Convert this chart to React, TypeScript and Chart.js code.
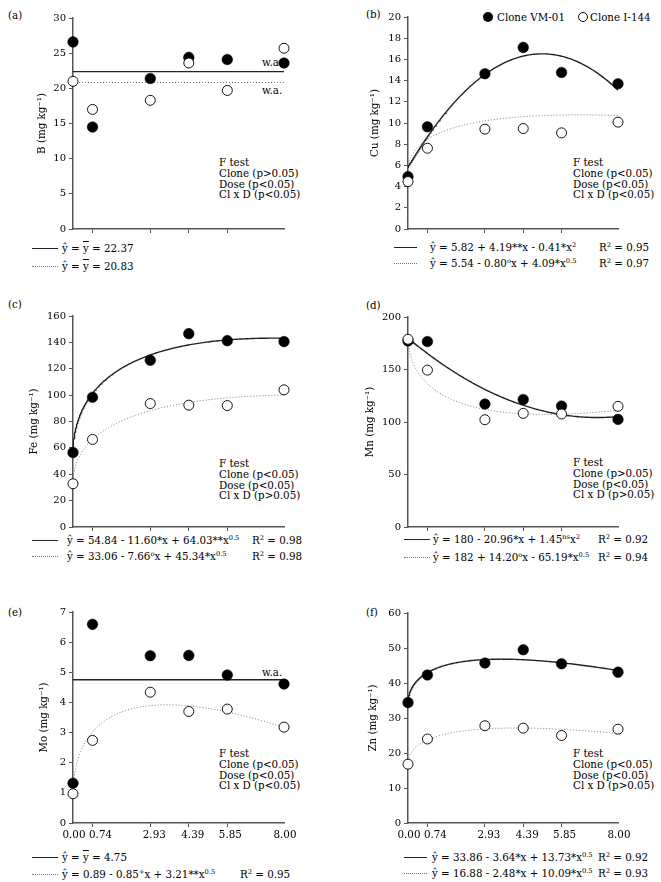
import React, { useEffect, useRef } from 'react';
import { Chart, registerables } from 'chart.js';
Chart.register(...registerables);

// ---------- data ----------
const doses = [0, 0.74, 2.93, 4.39, 5.85, 8];
const doseLabels = ['0.00', '0.74', '2.93', '4.39', '5.85', '8.00'];

const bVM01 = [26.6, 14.5, 21.4, 24.4, 24.1, 23.6];
const bI144 = [21.0, 17.0, 18.3, 23.6, 19.7, 25.7];
const bMeanVM01 = [22.37];
const bMeanI144 = [20.83];

const cuVM01 = [4.94, 9.64, 14.65, 17.13, 14.77, 13.7];
const cuI144 = [4.47, 7.62, 9.42, 9.48, 9.07, 10.08];
const cuFitVM01 = [5.82, 4.19, -0.41];
const cuFitI144 = [5.54, -0.8, 4.09];

const feVM01 = [56.5, 98.4, 126.4, 146.6, 141.3, 140.6];
const feI144 = [32.8, 66.4, 93.6, 92.4, 92.1, 104.0];
const feFitVM01 = [54.84, -11.6, 64.03];
const feFitI144 = [33.06, -7.66, 45.34];

const mnVM01 = [177.2, 176.6, 117.1, 121.5, 115.2, 102.5];
const mnI144 = [178.8, 149.4, 102.2, 108.2, 107.6, 114.9];
const mnFitVM01 = [180, -20.96, 1.45];
const mnFitI144 = [182, 14.2, -65.19];

const moVM01 = [1.32, 6.59, 5.55, 5.56, 4.91, 4.61];
const moI144 = [0.97, 2.74, 4.34, 3.7, 3.78, 3.18];
const moMeanVM01 = [4.75];
const moFitI144 = [0.89, -0.85, 3.21];

const znVM01 = [34.4, 42.3, 45.7, 49.5, 45.5, 43.1];
const znI144 = [16.8, 24.0, 27.8, 27.1, 25.0, 26.8];
const znFitVM01 = [33.86, -3.64, 13.73];
const znFitI144 = [16.88, -2.48, 10.09];

// ---------- helpers ----------
type Kind = 'mean' | 'quad' | 'sqrt';
type Fit = { kind: Kind; c: number[] };

const FONT = '"DejaVu Serif", serif';
const W = 661;
const H = 882;
const YW = 50;
const XH = 20;
const xLabelNudge = [1, 8, 4, 4, 3, 1];

function fitCurve(fit: Fit) {
  if (fit.kind === 'mean') {
    return [
      { x: 0, y: fit.c[0] },
      { x: 8, y: fit.c[0] },
    ];
  }
  const pts: { x: number; y: number }[] = [];
  const n = 200;
  for (let i = 0; i <= n; i++) {
    const x = 8 * Math.pow(i / n, 2);
    const c = fit.c;
    const y = fit.kind === 'quad' ? c[0] + c[1] * x + c[2] * x * x : c[0] + c[1] * x + c[2] * Math.sqrt(x);
    pts.push({ x, y });
  }
  return pts;
}

type Spec = {
  vm: number[];
  i144: number[];
  fitVm: Fit;
  fitI: Fit;
  yMax: number;
  yStep: number;
  yTitle: string;
  l: number;
  r: number;
  t: number;
  b: number;
  showX: boolean;
  titleX: number;
};

const specs: Spec[] = [
  { vm: bVM01, i144: bI144, fitVm: { kind: 'mean', c: bMeanVM01 }, fitI: { kind: 'mean', c: bMeanI144 }, yMax: 30, yStep: 5, yTitle: 'B (mg kg⁻¹)', l: 73, r: 284, t: 18, b: 229, showX: false, titleX: 42 },
  { vm: cuVM01, i144: cuI144, fitVm: { kind: 'quad', c: cuFitVM01 }, fitI: { kind: 'sqrt', c: cuFitI144 }, yMax: 20, yStep: 2, yTitle: 'Cu (mg kg⁻¹)', l: 408, r: 618, t: 17, b: 229, showX: false, titleX: 375 },
  { vm: feVM01, i144: feI144, fitVm: { kind: 'sqrt', c: feFitVM01 }, fitI: { kind: 'sqrt', c: feFitI144 }, yMax: 160, yStep: 20, yTitle: 'Fe (mg kg⁻¹)', l: 73, r: 284, t: 316, b: 527, showX: false, titleX: 34 },
  { vm: mnVM01, i144: mnI144, fitVm: { kind: 'quad', c: mnFitVM01 }, fitI: { kind: 'sqrt', c: mnFitI144 }, yMax: 200, yStep: 50, yTitle: 'Mn (mg kg⁻¹)', l: 408, r: 618, t: 317, b: 527, showX: false, titleX: 370 },
  { vm: moVM01, i144: moI144, fitVm: { kind: 'mean', c: moMeanVM01 }, fitI: { kind: 'sqrt', c: moFitI144 }, yMax: 7, yStep: 1, yTitle: 'Mo (mg kg⁻¹)', l: 73, r: 284, t: 612, b: 823, showX: true, titleX: 44 },
  { vm: znVM01, i144: znI144, fitVm: { kind: 'sqrt', c: znFitVM01 }, fitI: { kind: 'sqrt', c: znFitI144 }, yMax: 60, yStep: 10, yTitle: 'Zn (mg kg⁻¹)', l: 408, r: 618, t: 613, b: 823, showX: true, titleX: 373 },
];

const AXIS = '#555';
const TICKFONT = { family: FONT, size: 10 };

// draws the dose labels under the x axis through the x scale
const doseLabelPlugin = {
  id: 'doseLabels',
  afterDraw(chart: any, _args: any, opts: any) {
    if (!opts || !opts.show) return;
    const s = chart.scales.x;
    const ctx = chart.ctx;
    ctx.save();
    ctx.font = `10.3px ${FONT}`;
    ctx.fillStyle = '#000';
    ctx.textAlign = 'center';
    ctx.textBaseline = 'middle';
    doses.forEach((v, i) => {
      ctx.fillText(doseLabels[i], s.getPixelForValue(v) + xLabelNudge[i], s.top + 12);
    });
    ctx.restore();
  },
};

function Panel({ spec }: { spec: Spec }) {
  const ref = useRef<HTMLCanvasElement>(null);
  useEffect(() => {
    const titleFont = { family: FONT, size: 10.3 };
    const half = (10.3 * 1.2) / 2;
    const titlePad = spec.titleX - (spec.l - YW) - half;
    const chart = new Chart(ref.current!, {
      type: 'scatter',
      data: {
        datasets: [
          {
            label: 'Clone I-144',
            data: doses.map((x, i) => ({ x, y: spec.i144[i] })),
            showLine: false,
            pointRadius: 5,
            pointBackgroundColor: '#fff',
            pointBorderColor: '#111',
            pointBorderWidth: 1,
            clip: false,
          } as any,
          {
            label: 'Clone VM-01',
            data: doses.map((x, i) => ({ x, y: spec.vm[i] })),
            showLine: false,
            pointRadius: 5.3,
            pointBackgroundColor: '#000',
            pointBorderColor: '#000',
            pointBorderWidth: 0.5,
            clip: false,
          } as any,
          {
            label: 'fit VM-01',
            data: fitCurve(spec.fitVm),
            showLine: true,
            pointRadius: 0,
            borderColor: '#222',
            borderWidth: 1.4,
            tension: 0,
          } as any,
          {
            label: 'fit I-144',
            data: fitCurve(spec.fitI),
            showLine: true,
            pointRadius: 0,
            borderColor: '#777',
            borderWidth: 1,
            borderDash: [1, 2],
            tension: 0,
          } as any,
        ],
      },
      plugins: [doseLabelPlugin as any],
      options: {
        responsive: false,
        animation: false,
        devicePixelRatio: 1,
        events: [],
        layout: {
          padding: { left: spec.l - YW, right: W - spec.r, top: spec.t, bottom: H - spec.b - XH },
        },
        plugins: {
          legend: { display: false },
          tooltip: { enabled: false },
          doseLabels: { show: spec.showX },
        },
        scales: {
          x: {
            type: 'linear',
            min: 0,
            max: 8,
            afterBuildTicks: (s: any) => {
              s.ticks = doses.map((v) => ({ value: v }));
            },
            afterFit: (s: any) => {
              s.height = XH;
            },
            grid: {
              drawOnChartArea: false,
              drawTicks: true,
              tickLength: 4,
              tickColor: (ctx: any) => (ctx.index === 0 || ctx.index === 5 ? 'rgba(0,0,0,0)' : AXIS),
            },
            border: { display: true, color: AXIS, width: 1.5 },
            ticks: { display: false },
          },
          y: {
            min: 0,
            max: spec.yMax,
            afterFit: (s: any) => {
              s.width = YW;
            },
            grid: { drawOnChartArea: false, drawTicks: true, tickLength: 4, tickColor: AXIS },
            border: { display: true, color: AXIS, width: 1.5 },
            ticks: { stepSize: spec.yStep, padding: 3, color: '#000', font: TICKFONT },
            title: {
              display: true,
              text: spec.yTitle,
              color: '#000',
              font: titleFont,
              padding: { top: titlePad, bottom: 0 },
            },
          },
        },
      } as any,
    });
    return () => chart.destroy();
  }, [spec]);
  return (
    <canvas
      ref={ref}
      width={W}
      height={H}
      style={{ position: 'absolute', left: 0, top: 0, width: W, height: H, pointerEvents: 'none' }}
    />
  );
}

// ---------- annotation text ----------
const TXT: React.CSSProperties = {
  position: 'absolute',
  whiteSpace: 'nowrap',
  fontFamily: FONT,
  fontSize: 10.3,
  lineHeight: '12px',
  height: 12,
  color: '#000',
};

function T({ x, y, children }: { x: number; y: number; children: React.ReactNode }) {
  return <div style={{ ...TXT, left: x, top: y - 6 }}>{children}</div>;
}

function Sup({ children }: { children: React.ReactNode }) {
  return <sup style={{ fontSize: '0.65em', lineHeight: 0, verticalAlign: '0.55em' }}>{children}</sup>;
}

const Ybar = () => <span style={{ textDecoration: 'overline' }}>y</span>;

function Solid({ x1, x2, y }: { x1: number; x2: number; y: number }) {
  return <div style={{ position: 'absolute', left: x1, top: y, width: x2 - x1, borderTop: '1.4px solid #222' }} />;
}
function Dotted({ x1, x2, y }: { x1: number; x2: number; y: number }) {
  return <div style={{ position: 'absolute', left: x1, top: y, width: x2 - x1, borderTop: '1px dotted #777' }} />;
}

function FTest({ x, y, lines }: { x: number; y: number; lines: string[] }) {
  return (
    <>
      <T x={x} y={y}>F test</T>
      {lines.map((s, i) => (
        <T key={i} x={x} y={y + 10.8 * (i + 1)}>
          {s}
        </T>
      ))}
    </>
  );
}

function Annotations() {
  return (
    <div style={{ position: 'absolute', left: 0, top: 0, width: W, height: H }}>
      {/* panel letters */}
      <T x={8} y={15}>(a)</T>
      <T x={366} y={14}>(b)</T>
      <T x={8} y={304}>(c)</T>
      <T x={366} y={305}>(d)</T>
      <T x={8} y={612}>(e)</T>
      <T x={366} y={612}>(f)</T>

      {/* (a) */}
      <T x={262} y={62}>w.a.</T>
      <T x={262} y={90}>w.a.</T>
      <FTest x={219} y={162} lines={['Clone (p>0.05)', 'Dose (p<0.05)', 'Cl x D (p<0.05)']} />
      <Solid x1={32} x2={58} y={248} />
      <T x={62} y={248}>
        ŷ = <Ybar /> = 22.37
      </T>
      <Dotted x1={32} x2={58} y={266} />
      <T x={62} y={266}>
        ŷ = <Ybar /> = 20.83
      </T>

      {/* (b) */}
      <div style={{ position: 'absolute', left: 483, top: 12, width: 10, height: 10, borderRadius: '50%', background: '#000' }} />
      <T x={497} y={17}>Clone VM-01</T>
      <div style={{ position: 'absolute', left: 578, top: 12, width: 8, height: 8, borderRadius: '50%', border: '1px solid #111', background: '#fff' }} />
      <T x={590} y={17}>Clone I-144</T>
      <FTest x={573} y={162} lines={['Clone (p<0.05)', 'Dose (p<0.05)', 'Cl x D (p<0.05)']} />
      <Solid x1={394} x2={417} y={247} />
      <T x={430} y={247}>
        ŷ = 5.82 + 4.19**x - 0.41*x<Sup>2</Sup>
      </T>
      <T x={599} y={247}>
        R<Sup>2</Sup> = 0.95
      </T>
      <Dotted x1={394} x2={417} y={263} />
      <T x={430} y={263}>
        ŷ = 5.54 - 0.80<Sup>o</Sup>x + 4.09*x<Sup>0.5</Sup>
      </T>
      <T x={599} y={263}>
        R<Sup>2</Sup> = 0.97
      </T>

      {/* (c) */}
      <FTest x={219} y={463} lines={['Clone (p<0.05)', 'Dose (p<0.05)', 'Cl x D (p>0.05)']} />
      <Solid x1={32} x2={58} y={540} />
      <T x={67} y={540}>
        ŷ = 54.84 - 11.60*x + 64.03**x<Sup>0.5</Sup>
      </T>
      <T x={252} y={540}>
        R<Sup>2</Sup> = 0.98
      </T>
      <Dotted x1={32} x2={58} y={556} />
      <T x={67} y={556}>
        ŷ = 33.06 - 7.66<Sup>o</Sup>x + 45.34*x<Sup>0.5</Sup>
      </T>
      <T x={252} y={556}>
        R<Sup>2</Sup> = 0.98
      </T>

      {/* (d) */}
      <FTest x={573} y={462} lines={['Clone (p>0.05)', 'Dose (p<0.05)', 'Cl x D (p>0.05)']} />
      <Solid x1={404} x2={430} y={539} />
      <T x={433} y={539}>
        ŷ = 180 - 20.96*x + 1.45<Sup>ns</Sup>x<Sup>2</Sup>
      </T>
      <T x={598} y={539}>
        R<Sup>2</Sup> = 0.92
      </T>
      <Dotted x1={404} x2={430} y={557} />
      <T x={433} y={557}>
        ŷ = 182 + 14.20<Sup>o</Sup>x - 65.19*x<Sup>0.5</Sup>
      </T>
      <T x={598} y={557}>
        R<Sup>2</Sup> = 0.94
      </T>

      {/* (e) */}
      <T x={262} y={672}>w.a.</T>
      <FTest x={219} y={753} lines={['Clone (p<0.05)', 'Dose (p<0.05)', 'Cl x D (p<0.05)']} />
      <Solid x1={32} x2={58} y={857} />
      <T x={62} y={857}>
        ŷ = <Ybar /> = 4.75
      </T>
      <Dotted x1={32} x2={58} y={874} />
      <T x={62} y={874}>
        ŷ = 0.89 - 0.85<Sup>+</Sup>x + 3.21**x<Sup>0.5</Sup>
      </T>
      <T x={240} y={874}>
        R<Sup>2</Sup> = 0.95
      </T>

      {/* (f) */}
      <FTest x={573} y={753} lines={['Clone (p<0.05)', 'Dose (p<0.05)', 'Cl x D (p>0.05)']} />
      <Solid x1={404} x2={427} y={857} />
      <T x={432} y={857}>
        ŷ = 33.86 - 3.64*x + 13.73*x<Sup>0.5</Sup>
      </T>
      <T x={598} y={857}>
        R<Sup>2</Sup> = 0.92
      </T>
      <Dotted x1={404} x2={427} y={873} />
      <T x={432} y={873}>
        ŷ = 16.88 - 2.48*x + 10.09*x<Sup>0.5</Sup>
      </T>
      <T x={598} y={873}>
        R<Sup>2</Sup> = 0.93
      </T>
    </div>
  );
}

export default function App() {
  return (
    <div style={{ position: 'absolute', left: 0, top: 0, width: W, height: H, background: '#fff', overflow: 'hidden' }}>
      <Annotations />
      {specs.map((s, i) => (
        <Panel key={i} spec={s} />
      ))}
    </div>
  );
}
